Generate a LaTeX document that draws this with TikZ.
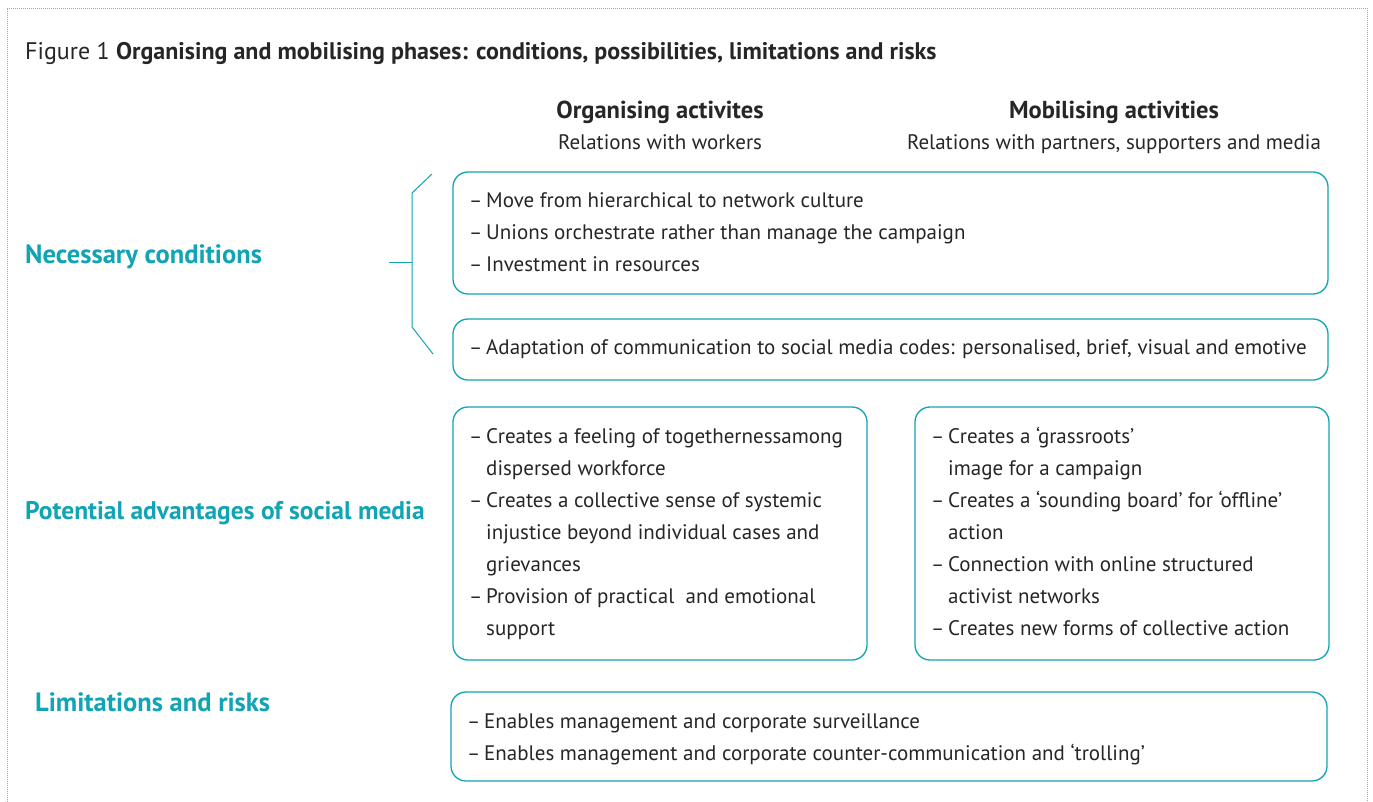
\documentclass[tikz,border=0pt]{standalone}
\usepackage{fontspec}
\setmainfont{PT Sans}
\definecolor{tealc}{RGB}{16,164,180}
\definecolor{ink}{RGB}{38,38,38}
\tikzset{
  frame/.style={draw=gray!70, densely dotted, line width=1pt},
  panel/.style={draw=tealc, line width=1.3pt, rounded corners=15pt},
  bline/.style={anchor=base west, inner sep=0pt, text=ink, font=\fontsize{21}{25}\selectfont},
  bulletdash/.style={anchor=base west, inner sep=0pt, text=ink, font=\fontsize{20}{25}\selectfont},
  rowhead/.style={anchor=base west, inner sep=0pt, text=tealc, font=\fontsize{26.5}{31}\selectfont\bfseries},
  colhead/.style={anchor=base, inner sep=0pt, text=ink, font=\fontsize{24.5}{29}\selectfont\bfseries},
  colsub/.style={anchor=base, inner sep=0pt, text=ink, font=\fontsize{21}{25}\selectfont},
  bracestyle/.style={draw=tealc, line width=1pt}
}
\begin{document}
\begin{tikzpicture}[x=1pt,y=-1pt]
\useasboundingbox (0,0) rectangle (1373,801);
\fill[white] (0,0) rectangle (1373,801);
\draw[frame] (7,830) -- (7,8) -- (1367,8) -- (1367,830);

% title
\node[anchor=base west, inner sep=0pt, text=ink, font=\fontsize{24}{28}\selectfont] (title) at (25,59)
  {Figure 1 \textbf{Organising and mobilising phases: conditions, possibilities, limitations and risks}};

% column heads
\node[colhead] (ch1) at (660,118) {Organising activites};
\node[colsub] (cs1) at (660,149) {Relations with workers};
\node[colhead] (ch2) at (1114,118) {Mobilising activities};
\node[colsub] (cs2) at (1114,149) {Relations with partners, supporters and media};

% row heads
\node[rowhead] (rh1) at (25,263) {Necessary conditions};
\node[rowhead, font=\fontsize{25.5}{30}\selectfont\bfseries] (rh2) at (25,519) {Potential advantages of social media};
\node[rowhead] (rh3) at (35,711) {Limitations and risks};

% panels
\draw[panel] (453,172) rectangle (1328,294);
\draw[panel] (453,319) rectangle (1328,380);
\draw[panel] (453,407) rectangle (867,660);
\draw[panel] (915,407) rectangle (1329,660);
\draw[panel] (451,692) rectangle (1327,781);

% brace
\coordinate (bt) at (432,174);
\coordinate (bt2) at (412,193);
\coordinate (bb2) at (412,327);
\coordinate (bb) at (433,354);
\coordinate (bm) at (412,262);
\coordinate (bl) at (389,262);
\draw[bracestyle] (bt) -- (bt2) -- (bb2) -- (bb);
\draw[bracestyle] (bl) -- (bm);

% box 1
\node[bulletdash] (d11) at (469,207) {–}; \node[bline] (t11) at (486,207) {Move from hierarchical to network culture};
\node[bulletdash] (d12) at (469,239) {–}; \node[bline] (t12) at (486,239) {Unions orchestrate rather than manage the campaign};
\node[bulletdash] (d13) at (469,271) {–}; \node[bline] (t13) at (486,271) {Investment in resources};

% box 2
\node[bulletdash] (d21) at (469,354) {–}; \node[bline] (t21) at (486,354) {Adaptation of communication to social media codes: personalised, brief, visual and emotive};

% box 3
\node[bulletdash] (d31) at (469,443) {–}; \node[bline] (t31) at (486,443) {Creates a feeling of togethernessamong};
\node[bline] (t32) at (486,475) {dispersed workforce};
\node[bulletdash] (d33) at (469,507) {–}; \node[bline] (t33) at (486,507) {Creates a collective sense of systemic};
\node[bline] (t34) at (486,539) {injustice beyond individual cases and};
\node[bline] (t35) at (486,571) {grievances};
\node[bulletdash] (d36) at (469,603) {–}; \node[bline] (t36) at (486,603) {Provision of practical\ \ and emotional};
\node[bline] (t37) at (486,635) {support};

% box 4
\node[bulletdash] (d41) at (931,443) {–}; \node[bline] (t41) at (948,443) {Creates a ‘grassroots’};
\node[bline] (t42) at (948,475) {image for a campaign};
\node[bulletdash] (d43) at (931,507) {–}; \node[bline] (t43) at (948,507) {Creates a ‘sounding board’ for ‘offline’};
\node[bline] (t44) at (948,539) {action};
\node[bulletdash] (d45) at (931,571) {–}; \node[bline] (t45) at (948,571) {Connection with online structured};
\node[bline] (t46) at (948,603) {activist networks};
\node[bulletdash] (d47) at (931,635) {–}; \node[bline] (t47) at (948,635) {Creates new forms of collective action};

% box 5
\node[bulletdash] (d51) at (467,728) {–}; \node[bline] (t51) at (484,728) {Enables management and corporate surveillance};
\node[bulletdash] (d52) at (467,760) {–}; \node[bline] (t52) at (484,760) {Enables management and corporate counter-communication and ‘trolling’};
\end{tikzpicture}
\end{document}
